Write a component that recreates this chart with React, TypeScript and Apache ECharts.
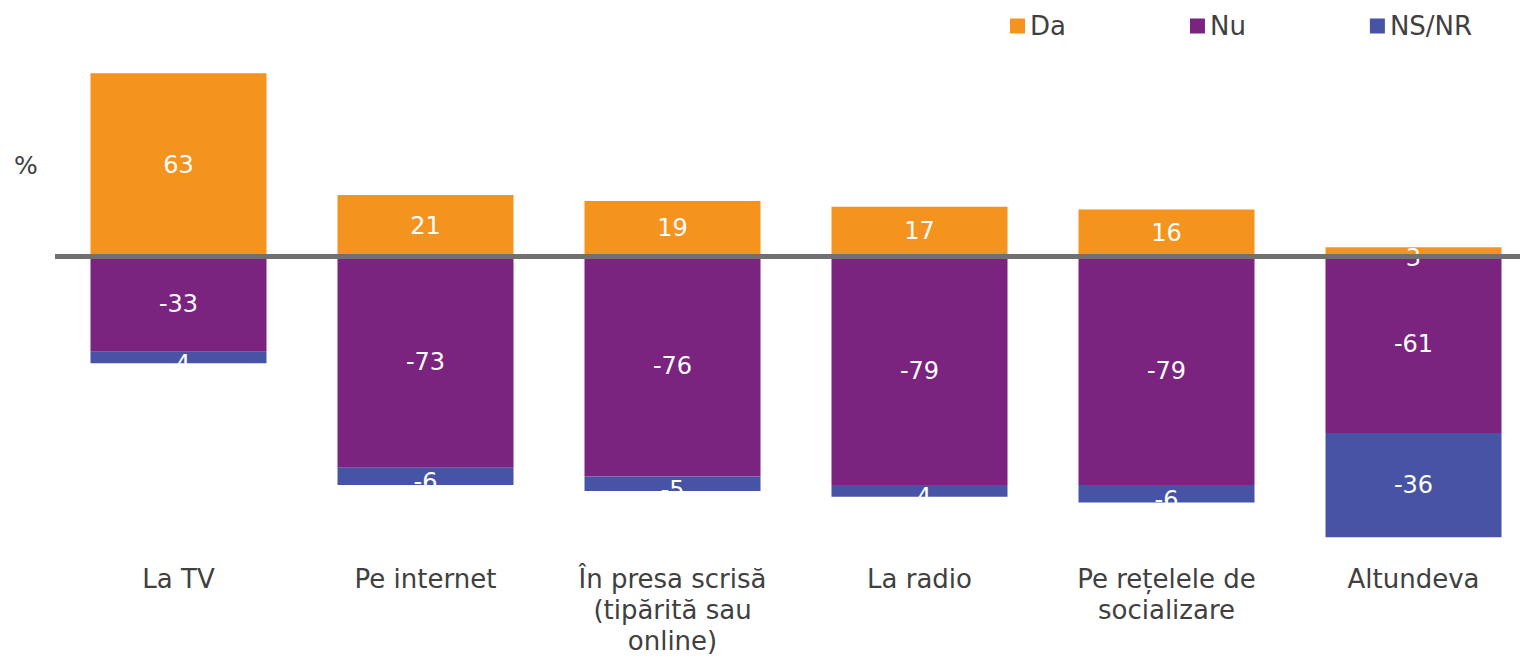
import React, { useEffect, useRef } from "react";
import * as echarts from "echarts";

const categories = [
  "La TV",
  "Pe internet",
  "În presa scrisă\n(tipărită sau\nonline)",
  "La radio",
  "Pe rețelele de\nsocializare",
  "Altundeva",
];
const daValues = [63, 21, 19, 17, 16, 3];
const nuValues = [-33, -73, -76, -79, -79, -61];
const nsValues = [-4, -6, -5, -4, -6, -36];

const FONT = "DejaVu Sans";
const TEXT = "#404040";

function withLabelOffset(values: number[]) {
  return values.map((v) =>
    Math.abs(v) < 8 ? { value: v, label: { offset: [0, 6] } } : { value: v }
  );
}

export default function App() {
  const ref = useRef<HTMLDivElement>(null);
  useEffect(() => {
    document.body.style.margin = "0";
    const chart = echarts.init(ref.current!, null, { renderer: "svg" });
    const barLabel = {
      show: true,
      position: "inside",
      color: "#ffffff",
      fontSize: 24,
      fontFamily: FONT,
    };
    chart.setOption({
      animation: false,
      textStyle: { fontFamily: FONT },
      legend: {
        left: 1005,
        top: 8,
        icon: "rect",
        itemWidth: 15,
        itemHeight: 15,
        itemGap: 124,
        textStyle: { fontSize: 26, color: TEXT, fontFamily: FONT },
        data: ["Da", "Nu", "NS/NR"],
      },
      graphic: [
        {
          type: "text",
          style: {
            text: "%",
            x: 14,
            y: 165,
            verticalAlign: "middle",
            fontSize: 25,
            fontFamily: FONT,
            fill: TEXT,
          },
        },
      ],
      grid: {
        left: 55,
        width: 1482,
        top: 24,
        height: 522,
        containLabel: false,
        outerBoundsMode: "none",
      },
      xAxis: {
        type: "category",
        data: categories,
        axisLine: { show: false, onZero: false },
        axisTick: { show: false },
        axisLabel: {
          fontSize: 26,
          lineHeight: 31,
          color: TEXT,
          fontFamily: FONT,
          margin: 17,
          interval: 0,
        },
      },
      yAxis: {
        type: "value",
        min: -100,
        max: 80,
        show: false,
        splitLine: { show: false },
      },
      series: [
        {
          name: "Da",
          type: "bar",
          stack: "total",
          barWidth: 176,
          itemStyle: { color: "#F5931F" },
          label: barLabel,
          data: withLabelOffset(daValues),
        },
        {
          name: "Nu",
          type: "bar",
          stack: "total",
          barWidth: 176,
          itemStyle: { color: "#7A237F" },
          label: barLabel,
          data: withLabelOffset(nuValues),
        },
        {
          name: "NS/NR",
          type: "bar",
          stack: "total",
          barWidth: 176,
          itemStyle: { color: "#4754A5" },
          label: barLabel,
          data: withLabelOffset(nsValues),
          markLine: {
            silent: true,
            symbol: "none",
            label: { show: false },
            lineStyle: { color: "#707070", width: 5, type: "solid" },
            data: [{ yAxis: 0 }],
          },
        },
      ],
    });
    return () => chart.dispose();
  }, []);
  return <div ref={ref} style={{ width: 1520, height: 656 }} />;
}
